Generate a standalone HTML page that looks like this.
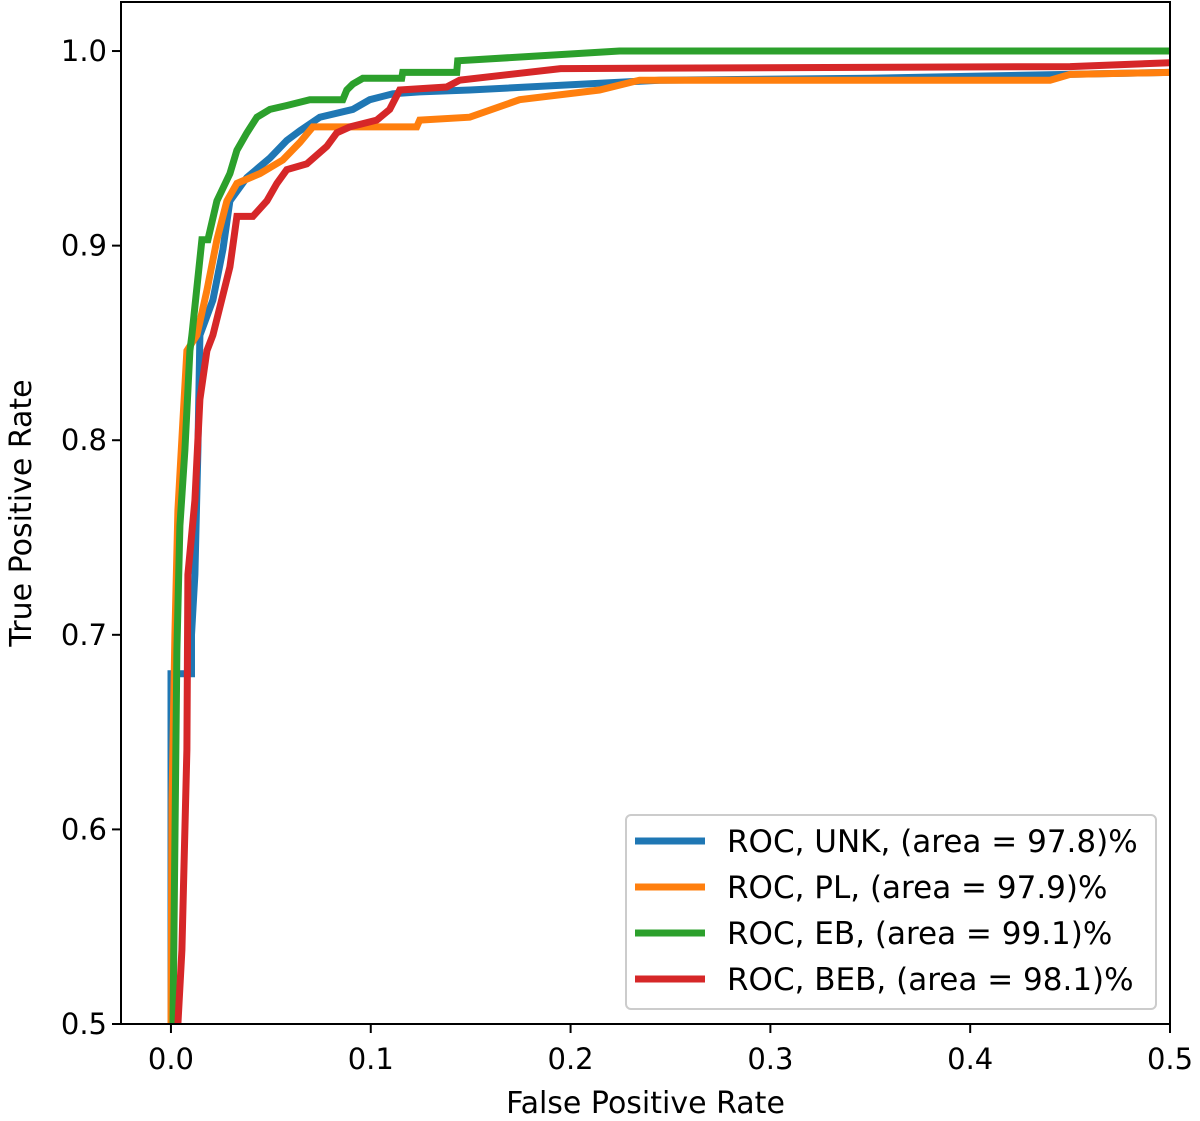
<!DOCTYPE html>
<html><head><meta charset="utf-8"><style>
body{margin:0;background:#fff;}
svg{display:block;font-family:"DejaVu Sans","Liberation Sans",sans-serif;}
</style></head><body>
<svg id="chart" width="1200" height="1121" viewBox="0 0 1200 1121">
<g id="curves"></g>
<g id="axes"></g>
<g id="legend"></g>
</svg>
<script>
const xTicks=[0.0,0.1,0.2,0.3,0.4,0.5];
const xTickLabels=["0.0","0.1","0.2","0.3","0.4","0.5"];
const yTicks=[0.5,0.6,0.7,0.8,0.9,1.0];
const yTickLabels=["0.5","0.6","0.7","0.8","0.9","1.0"];
const seriesNames=["ROC, UNK, (area = 97.8)%","ROC, PL, (area = 97.9)%","ROC, EB, (area = 99.1)%","ROC, BEB, (area = 98.1)%"];
const seriesColors=["#1f77b4","#ff7f0e","#2ca02c","#d62728"];
const unkFpr=[0,0,0.0103,0.0103,0.012,0.0135,0.0145,0.021,0.026,0.0295,0.038,0.0495,0.058,0.0645,0.0745,0.091,0.0995,0.111,0.1245,0.1495,0.2445,0.35,0.5];
const unkTpr=[0.5,0.68,0.68,0.70,0.731,0.795,0.854,0.872,0.898,0.923,0.935,0.945,0.954,0.959,0.966,0.970,0.975,0.978,0.979,0.980,0.985,0.986,0.989];
const plFpr=[0,0.0005,0.002,0.0035,0.006,0.008,0.013,0.018,0.023,0.028,0.033,0.0445,0.056,0.0645,0.071,0.123,0.1245,0.1495,0.1745,0.2145,0.2345,0.44,0.45,0.5];
const plTpr=[0.5,0.615,0.70,0.764,0.810,0.846,0.854,0.877,0.903,0.923,0.932,0.937,0.944,0.953,0.961,0.961,0.9645,0.966,0.975,0.980,0.985,0.985,0.988,0.989];
const ebFpr=[0.001,0.003,0.0045,0.007,0.0095,0.0105,0.0155,0.0185,0.023,0.0295,0.033,0.038,0.043,0.0495,0.058,0.0695,0.086,0.088,0.091,0.096,0.1155,0.116,0.143,0.1435,0.2245,0.5];
const ebTpr=[0.5,0.692,0.756,0.795,0.846,0.854,0.903,0.903,0.923,0.937,0.949,0.958,0.966,0.970,0.972,0.975,0.975,0.980,0.983,0.986,0.986,0.989,0.989,0.995,1.0,1.0];
const bebFpr=[0.0035,0.0055,0.008,0.0085,0.012,0.0145,0.018,0.021,0.0295,0.033,0.041,0.048,0.053,0.058,0.068,0.078,0.083,0.0895,0.103,0.1095,0.1145,0.138,0.1445,0.195,0.45,0.5];
const bebTpr=[0.5,0.538,0.641,0.731,0.769,0.821,0.846,0.854,0.889,0.915,0.915,0.923,0.932,0.939,0.942,0.951,0.958,0.961,0.9645,0.970,0.980,0.9815,0.985,0.991,0.992,0.994];
const seriesFpr=[unkFpr,plFpr,ebFpr,bebFpr];
const seriesTpr=[unkTpr,plTpr,ebTpr,bebTpr];

const L=121,R=1170,T=2,B=1024;
const xMin=-0.025,xMax=0.5,yMin=0.5,yMax=1.0252;
function xs(v){return L+(v-xMin)/(xMax-xMin)*(R-L);}
function ys(v){return B-(v-yMin)/(yMax-yMin)*(B-T);}
const NS="http://www.w3.org/2000/svg";
function mk(tag,attrs,parent){const e=document.createElementNS(NS,tag);for(const k in attrs)e.setAttribute(k,attrs[k]);parent.appendChild(e);return e;}

const defs=mk('defs',{},document.getElementById('chart'));
const cp=mk('clipPath',{id:'clip'},defs);
mk('rect',{x:L,y:T,width:R-L,height:B-T},cp);

const curves=document.getElementById('curves');
curves.setAttribute('clip-path','url(#clip)');
const keys=["unk","pl","eb","beb"];
for(let s=0;s<4;s++){
  const pts=seriesFpr[s].map((f,i)=>xs(f).toFixed(1)+','+ys(seriesTpr[s][i]).toFixed(1)).join(' ');
  const p=mk('polyline',{points:pts,fill:'none',stroke:seriesColors[s],'stroke-width':7,'stroke-linejoin':'miter'},curves);
  
  
}

const axes=document.getElementById('axes');
const frame=mk('rect',{x:L,y:T,width:R-L,height:B-T,fill:'none',stroke:'#000','stroke-width':2},axes);


xTicks.forEach((v,i)=>{
  const x=xs(v);
  mk('line',{x1:x,x2:x,y1:B,y2:B+9,stroke:'#000','stroke-width':2},axes);
  const t=mk('text',{x:x,y:1069,'text-anchor':'middle','font-size':29,fill:'#000'},axes);
  t.textContent=xTickLabels[i];
  
  
});
yTicks.forEach((v,i)=>{
  const y=ys(v);
  mk('line',{x1:L-9,x2:L,y1:y,y2:y,stroke:'#000','stroke-width':2},axes);
  const t=mk('text',{x:L-14,y:y+10,'text-anchor':'end','font-size':29,fill:'#000'},axes);
  t.textContent=yTickLabels[i];
  
  
});
const xl=mk('text',{x:(L+R)/2,y:1113,'text-anchor':'middle','font-size':30,fill:'#000'},axes);
xl.textContent="False Positive Rate";


const yl=mk('text',{x:0,y:0,'text-anchor':'middle','font-size':30,fill:'#000',transform:'translate(31,513) rotate(-90)'},axes);
yl.textContent="True Positive Rate";



const lg=document.getElementById('legend');
const box=mk('rect',{x:626,y:815,width:530,height:194,rx:5,fill:'#fff','fill-opacity':0.8,stroke:'#ccc','stroke-width':2},lg);


for(let s=0;s<4;s++){
  const y=841+s*46;
  const ln=mk('line',{x1:635,x2:705,y1:y,y2:y,stroke:seriesColors[s],'stroke-width':7},lg);
  
  
  const t=mk('text',{x:727,y:y+11,'font-size':31,fill:'#000'},lg);
  t.textContent=seriesNames[s];
  
  
}
</script>
</body></html>
